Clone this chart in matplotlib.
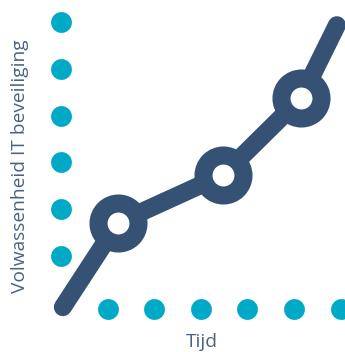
import matplotlib
matplotlib.use("Agg")
import matplotlib.pyplot as plt

# grid of dots along the axes (data units = one dot spacing)
left_dots_y = [1.14, 2.15, 3.15, 4.14, 5.15, 6.16]
bottom_dots_x = [1, 2, 3, 4, 5, 6]

# maturity curve
line_x = [0.04, 1.22, 3.48, 5.15, 5.92]
line_y = [0.04, 1.85, 2.88, 4.53, 6.09]
marker_idx = [1, 2, 3]

dot_color = "#00aac6"
line_color = "#355274"
text_color = "#4a6282"

fig = plt.figure(figsize=(3.45, 3.52), dpi=100)
ax = fig.add_axes([0, 0, 1, 1])
ax.set_xlim(-1.309, 6.094)
ax.set_ylim(-0.923, 6.631)
ax.axis("off")

ax.plot([0] * len(left_dots_y), left_dots_y, "o", color=dot_color, ms=15, mew=0, zorder=1)
ax.plot(bottom_dots_x, [0] * len(bottom_dots_x), "o", color=dot_color, ms=15, mew=0, zorder=1)

ax.plot(line_x, line_y, color=line_color, lw=13, solid_capstyle="round", zorder=2)
ax.plot([line_x[i] for i in marker_idx], [line_y[i] for i in marker_idx], "o",
        ms=28.8, mfc="white", mec=line_color, mew=13, zorder=3)

fig.text(20 / 345, 1 - 166 / 352, "Volwassenheid IT beveiliging", rotation=90,
         ha="center", va="center", fontsize=13.8, color=text_color, family="Open Sans")
fig.text(202 / 345, 1 / 352, "Tijd", ha="center", va="bottom",
         fontsize=13.8, color=text_color, family="Open Sans")

fig.savefig("out.png", dpi=100)
